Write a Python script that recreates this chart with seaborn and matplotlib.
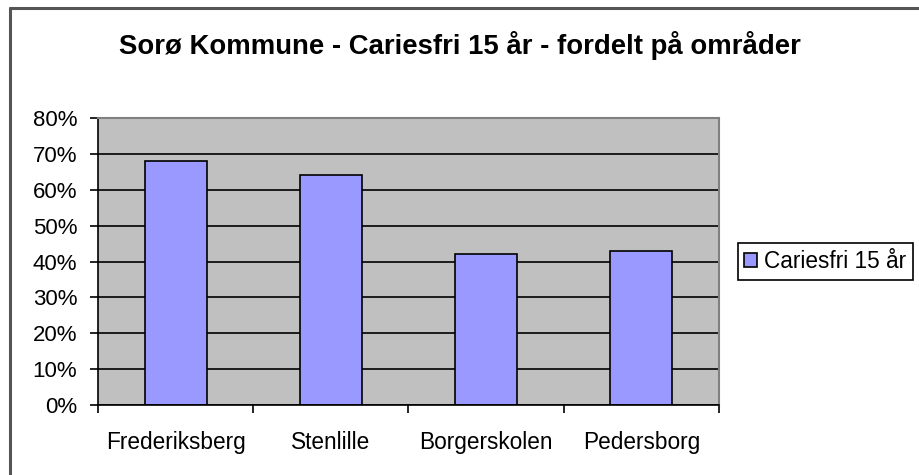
import matplotlib
matplotlib.use("Agg")
import matplotlib.pyplot as plt
import seaborn as sns
import pandas as pd
from matplotlib.ticker import PercentFormatter, FixedLocator
from matplotlib.lines import Line2D

categories = ["Frederiksberg", "Stenlille", "Borgerskolen", "Pedersborg"]
values = [0.68, 0.64, 0.42, 0.43]
series_name = "Cariesfri 15 år"
title = "Sorø Kommune - Cariesfri 15 år - fordelt på områder"

sns.set_theme(style="white")
plt.rcParams['font.family'] = ['Liberation Sans', 'DejaVu Sans']
plt.rcParams['text.color'] = 'black'

df = pd.DataFrame({"område": categories, "andel": values, "serie": series_name})

fig = plt.figure(figsize=(9.2, 4.75), dpi=100)
ax = fig.add_axes([98/920, 1-405/475, (719-98)/920, (405-118)/475])
ax.set_facecolor("#C0C0C0")

sns.barplot(data=df, x="område", y="andel", hue="serie", palette=["#9999FF"],
            edgecolor="black", linewidth=1.2, width=0.4, saturation=1, ax=ax)

ax.set_ylim(0, 0.8)
ax.set_xlim(-0.5, len(categories) - 0.5)
ax.yaxis.set_major_locator(FixedLocator([i/10 for i in range(9)]))
ax.yaxis.set_major_formatter(PercentFormatter(1.0, decimals=0))
ax.set_axisbelow(True)
ax.grid(axis="y", color="black", linewidth=1.2)
ax.grid(axis="x", visible=False)
ax.set_xlabel("")
ax.set_ylabel("")

ax.xaxis.set_minor_locator(FixedLocator([i - 0.5 for i in range(len(categories) + 1)]))
ax.tick_params(axis="x", which="major", length=0, pad=19, labelsize=16.3, colors="black")
ax.tick_params(axis="x", which="minor", bottom=True, length=6, width=1.2, direction="out", color="black")
ax.tick_params(axis="y", which="major", left=True, length=6, width=1.2, direction="out", pad=9,
               labelsize=16, colors="black")

for s in ["left", "bottom"]:
    ax.spines[s].set_color("black")
    ax.spines[s].set_linewidth(1.2)
for s in ["top", "right"]:
    ax.spines[s].set_color("#808080")
    ax.spines[s].set_linewidth(1.5)

leg = ax.legend(loc="center left", bbox_to_anchor=(1.03, 0.5), borderaxespad=0,
                fancybox=False, edgecolor="black", framealpha=1, fontsize=16.3,
                handlelength=0.55, handleheight=0.55, handletextpad=0.3,
                borderpad=0.3, title=None)
leg.get_frame().set_linewidth(1.2)
for t in leg.get_texts():
    t.set_color("black")

fig.text(0.5, 1-45/475, title, ha="center", va="center", fontsize=19.8,
         fontweight="bold", color="black")

fig.add_artist(Line2D([10/920, 10/920], [0, 1-8/475], color="#555555", linewidth=2.2,
                      transform=fig.transFigure))
fig.add_artist(Line2D([10/920, 1], [1-8/475, 1-8/475], color="#555555", linewidth=2.2,
                      transform=fig.transFigure))

fig.savefig("out.png", dpi=100, facecolor="white")
